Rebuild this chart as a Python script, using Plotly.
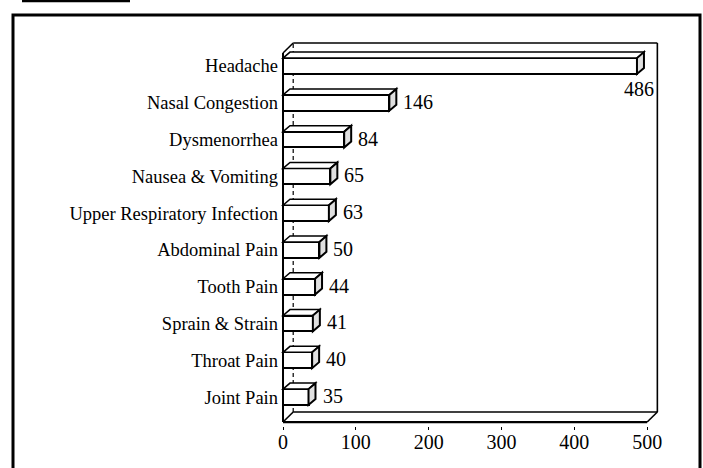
import plotly.graph_objects as go

categories = ["Headache", "Nasal Congestion", "Dysmenorrhea", "Nausea & Vomiting",
              "Upper Respiratory Infection", "Abdominal Pain", "Tooth Pain",
              "Sprain & Strain", "Throat Pain", "Joint Pain"]
values = [486, 146, 84, 65, 63, 50, 44, 41, 40, 35]
x_ticks = [0, 100, 200, 300, 400, 500]

n = len(categories)
ypos = [n - 1 - i for i in range(n)]
xmax = x_ticks[-1]

FONT = "Liberation Serif, Times New Roman, serif"
BW = 0.43          # bar thickness (category units)
BDX, BDY = 9.6, 0.163   # bar depth offset (data units)
DX, DY = 14.0, 0.272    # box depth offset (data units)
FLOOR = -0.68
TOP = 9.353

fig = go.Figure()
fig.add_trace(go.Bar(
    x=values, y=ypos, orientation="h", width=BW,
    marker=dict(color="white", line=dict(color="black", width=2)),
    hoverinfo="skip", showlegend=False,
))

shapes = []

# 3D faces of the bars
for v, y in zip(values, ypos):
    y0, y1 = y - BW / 2, y + BW / 2
    top = f"M 0 {y1} L {BDX} {y1 + BDY} L {v + BDX} {y1 + BDY} L {v} {y1} Z"
    side = f"M {v} {y0} L {v} {y1} L {v + BDX} {y1 + BDY} L {v + BDX} {y0 + BDY} Z"
    shapes.append(dict(type="path", path=top, xref="x", yref="y",
                       fillcolor="white", line=dict(color="black", width=1.5), layer="above"))
    shapes.append(dict(type="path", path=side, xref="x", yref="y",
                       fillcolor="#e0e0e0", line=dict(color="black", width=2), layer="above"))

# 3D box frame
def seg(x0, y0, x1, y1, dash=None, width=1.6):
    d = dict(type="line", xref="x", yref="y", x0=x0, y0=y0, x1=x1, y1=y1,
             line=dict(color="black", width=width), layer="below")
    if dash:
        d["line"]["dash"] = dash
    return d

shapes += [
    seg(0, FLOOR, 0, TOP, width=2),                   # front left edge
    seg(0, TOP, DX, TOP + DY),                        # top-left diagonal
    seg(DX, TOP + DY, xmax + DX, TOP + DY),           # back top
    seg(xmax + DX, TOP + DY, xmax + DX, FLOOR + DY),  # back right
    seg(xmax + DX, FLOOR + DY, xmax, FLOOR),          # bottom-right diagonal
    seg(0, FLOOR, xmax, FLOOR, width=2.2),            # floor front
    seg(DX, FLOOR + DY, xmax + DX, FLOOR + DY),       # floor back
    seg(0, FLOOR, DX, FLOOR + DY),                    # bottom-left diagonal
    seg(DX, FLOOR + DY, DX, TOP + DY, dash="4px,3px", width=1.2),  # back-left edge
]

fig_w, fig_h = 703, 468
ML, MR, MT, MB = 279, 42, 40, 42

annotations = []
for v, y in zip(values, ypos):
    if v == max(values):
        annotations.append(dict(x=v, y=y, xref="x", yref="y", text=str(v), showarrow=False,
                                xanchor="center", yanchor="middle", yshift=-23, xshift=2,
                                font=dict(family=FONT, size=20, color="black")))
    else:
        annotations.append(dict(x=v, y=y, xref="x", yref="y", text=str(v), showarrow=False,
                                xanchor="left", yanchor="middle", xshift=12, yshift=1,
                                font=dict(family=FONT, size=20, color="black")))

fig.update_layout(
    width=fig_w, height=fig_h,
    margin=dict(l=ML, r=MR, t=MT, b=MB),
    paper_bgcolor="white", plot_bgcolor="rgba(0,0,0,0)",
    font=dict(family=FONT, color="black"),
    shapes=shapes, annotations=annotations,
    bargap=0, showlegend=False,
    xaxis=dict(range=[-5.5, 519], tickvals=x_ticks, ticktext=[str(t) for t in x_ticks],
               ticks="outside", ticklen=3, tickwidth=1, tickcolor="black",
               ticklabelstandoff=-5,
               showgrid=False, zeroline=False, showline=False,
               tickfont=dict(family=FONT, size=20, color="black")),
    yaxis=dict(range=[-0.788, 9.707], tickvals=ypos, ticktext=categories,
               ticks="", showgrid=False, zeroline=False, showline=False,
               tickfont=dict(family=FONT, size=18.5, color="black")),
)

# Outer frame in paper coordinates converted from page pixels
pw = fig_w - ML - MR
ph = fig_h - MT - MB
def px_x(p):
    return (p - ML) / pw
def px_y(p):
    return (fig_h - MB - p) / ph

fig.add_shape(type="path", xref="paper", yref="paper",
              path=f"M {px_x(13)} {px_y(475)} L {px_x(13)} {px_y(15)} L {px_x(700)} {px_y(15)} L {px_x(700)} {px_y(475)}",
              line=dict(color="black", width=3), layer="below")
fig.add_shape(type="line", xref="paper", yref="paper",
              x0=px_x(22), x1=px_x(130), y0=px_y(1), y1=px_y(1),
              line=dict(color="black", width=2.5), layer="below")

fig.write_html("out.html", config={"displayModeBar": False},
               post_script="document.body.style.margin='0';")
